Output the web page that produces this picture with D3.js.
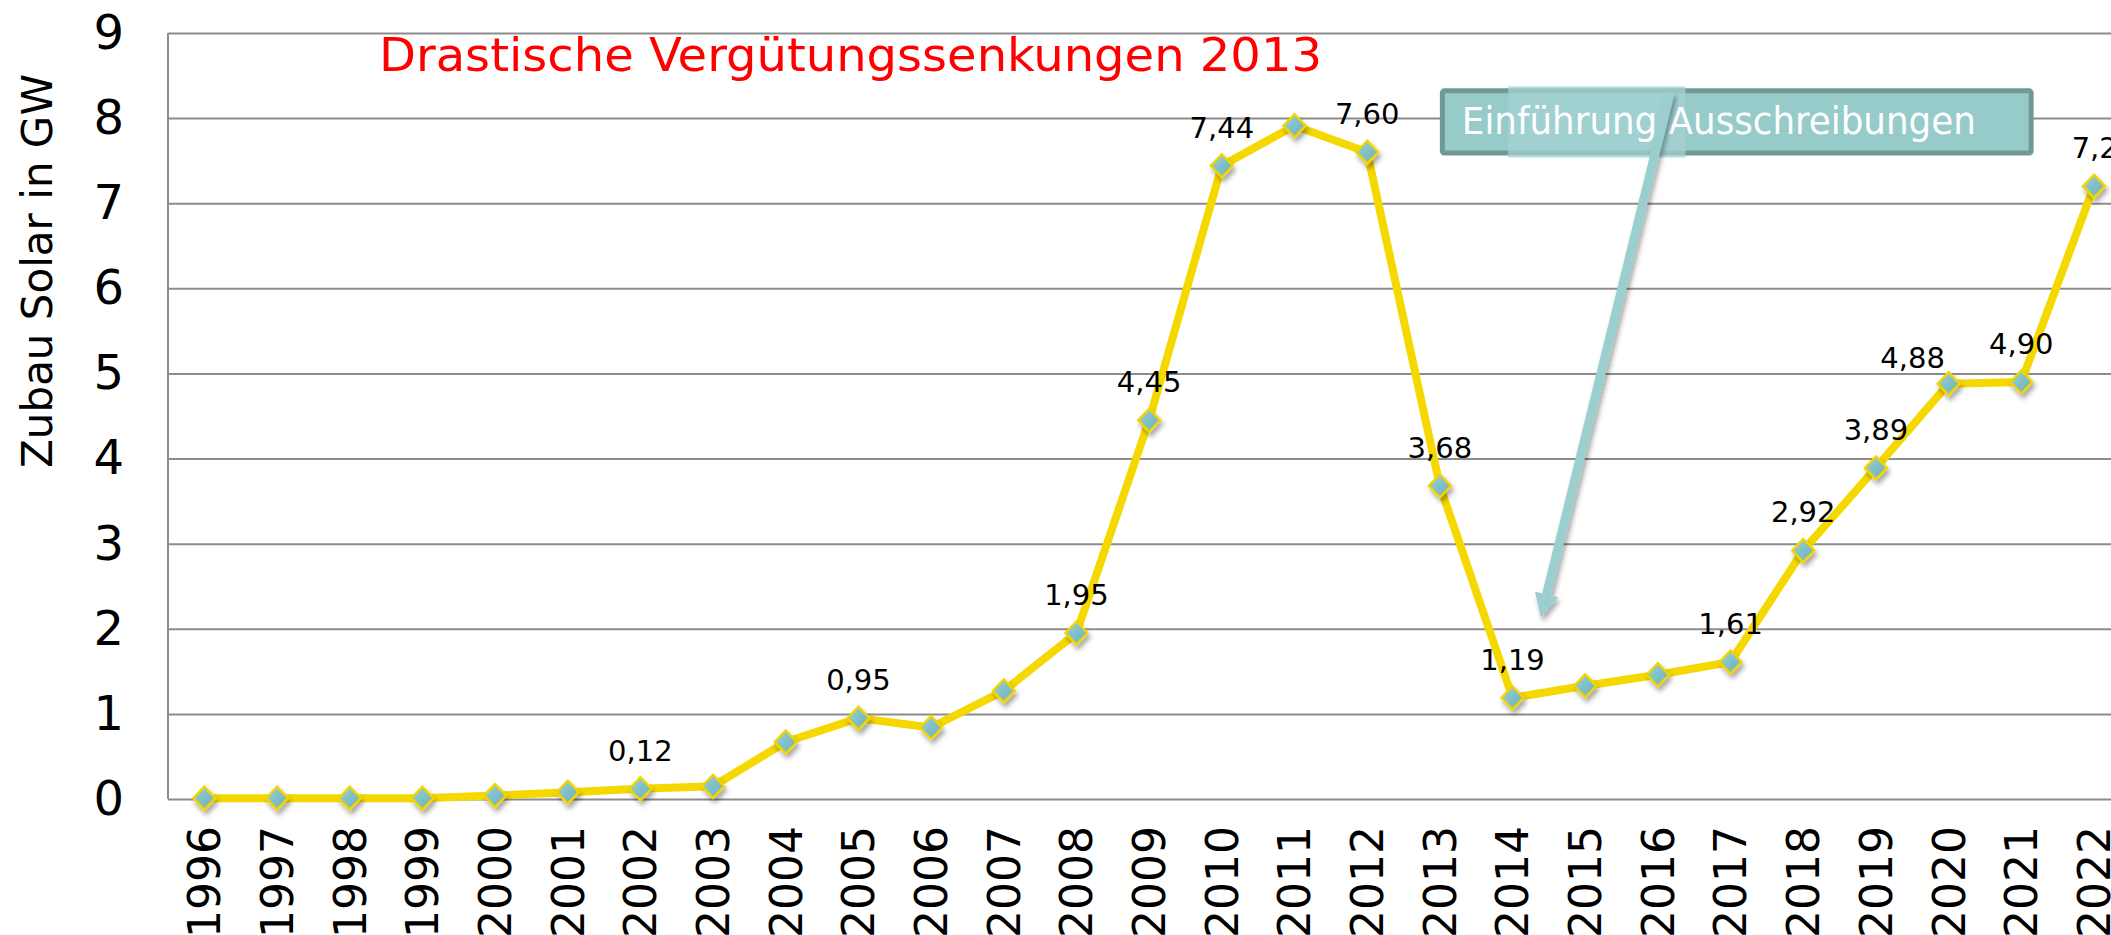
<!DOCTYPE html>
<html>
<head>
<meta charset="utf-8">
<script src="https://cdn.jsdelivr.net/npm/d3@7"></script>
<style>
body { margin: 0; background: #fff; }
</style>
</head>
<body>
<script>
// Zubau Solar in Deutschland (GW pro Jahr)
var years = ["1996","1997","1998","1999","2000","2001","2002","2003","2004","2005","2006","2007","2008","2009",
	"2010","2011","2012","2013","2014","2015","2016","2017","2018","2019","2020","2021","2022"];
var zubau = [0.01,0.01,0.01,0.01,0.04,0.08,0.12,0.15,0.67,0.95,0.84,1.27,1.95,4.45,
	7.44,7.91,7.60,3.68,1.19,1.33,1.46,1.61,2.92,3.89,4.88,4.90,7.20];
var labelYears = ["2002","2005","2008","2009","2010","2012","2013","2014","2017","2018","2019","2020","2021","2022"];
var yTicks = [0,1,2,3,4,5,6,7,8,9];
var yTitle = "Zubau Solar in GW";
var noteRed = "Drastische Vergütungssenkungen 2013";
var noteBox = "Einführung Ausschreibungen";

var W = 2111, H = 935;
// (window.top is read only, so plot* names)
var plotL = 168, plotR = 2130.3, plotT = 33, plotB = 799;

// label nudges where the original labels sit off centre
var nudge = {"2020": [-36, 12], "2022": [10, 0]};

var svg = d3.select("body").append("svg")
	.attr("width", W)
	.attr("height", H)
	.style("display", "block");

var defs = svg.append("defs");
var f = defs.append("filter").attr("id", "shadow")
	.attr("x", "-50%").attr("y", "-50%").attr("width", "200%").attr("height", "200%");
f.append("feDropShadow").attr("dx", 2).attr("dy", 4).attr("stdDeviation", 2.5)
	.attr("flood-color", "#000").attr("flood-opacity", 0.35);
var grad = defs.append("linearGradient").attr("id", "mk")
	.attr("x1", "0").attr("y1", "0").attr("x2", "1").attr("y2", "1");
grad.append("stop").attr("offset", "0").attr("stop-color", "#98d0d6");
grad.append("stop").attr("offset", "1").attr("stop-color", "#6aafba");

var x = d3.scalePoint().domain(years).range([plotL, plotR]).padding(0.5);
var y = d3.scaleLinear().domain([0, 9]).range([plotB, plotT]);

// fractional year -> pixel, used for the callout
var xf = function(v)
{
	return x(years[0]) + (v - (+years[0])) * x.step();
}

// grid + y axis
var gy = svg.append("g")
	.attr("transform", "translate(" + plotL + ",0)")
	.call(d3.axisLeft(y).tickValues(yTicks).tickSize(-(W - plotL)).tickPadding(44));
gy.select(".domain").remove();
gy.selectAll(".tick line").attr("stroke", "#8c8c8c").attr("stroke-width", 2);
gy.selectAll(".tick text")
	.style("font-family", "'DejaVu Sans', Verdana, sans-serif")
	.style("font-size", "48px")
	.attr("fill", "#000");

svg.append("line")
	.attr("x1", plotL).attr("x2", plotL)
	.attr("y1", y(9)).attr("y2", y(0))
	.attr("stroke", "#8c8c8c").attr("stroke-width", 2);

// x axis labels
var gx = svg.append("g")
	.attr("transform", "translate(0," + plotB + ")")
	.call(d3.axisBottom(x).tickSize(0));
gx.select(".domain").remove();
gx.selectAll(".tick text")
	.attr("transform", "rotate(-90)")
	.attr("x", -27)
	.attr("y", 0)
	.attr("dy", "0.35em")
	.style("text-anchor", "end")
	.style("font-family", "'DejaVu Sans', Verdana, sans-serif")
	.style("font-size", "44px")
	.attr("fill", "#000");

// y title
svg.append("text")
	.attr("transform", "translate(52,271) rotate(-90)")
	.attr("text-anchor", "middle")
	.style("font-family", "'DejaVu Sans', Verdana, sans-serif")
	.style("font-size", "42px")
	.text(yTitle);

// red note
svg.append("text")
	.attr("x", 379)
	.attr("y", 71)
	.attr("fill", "#ff0000")
	.attr("textLength", 943)
	.attr("lengthAdjust", "spacingAndGlyphs")
	.style("font-family", "'DejaVu Sans Condensed', 'DejaVu Sans', sans-serif")
	.style("font-stretch", "condensed")
	.style("font-size", "47px")
	.text(noteRed);

// line + markers
var pts = years.map(function(d, i) { return {year: d, v: zubau[i]}; });
var line = d3.line()
	.x(function(d) { return x(d.year); })
	.y(function(d) { return y(d.v); });

svg.append("path")
	.datum(pts)
	.attr("d", line)
	.attr("fill", "none")
	.attr("stroke", "#f5d800")
	.attr("stroke-width", 8)
	.attr("stroke-linejoin", "round");

svg.append("g").selectAll("path.mk")
	.data(pts)
	.enter().append("path")
	.attr("class", "mk")
	.attr("d", "M0,-11.5L11,0L0,11.5L-11,0Z")
	.attr("transform", function(d) { return "translate(" + x(d.year) + "," + y(d.v) + ")"; })
	.attr("fill", "url(#mk)")
	.attr("stroke", "#f2d500")
	.attr("stroke-width", 2.4)
	.attr("filter", "url(#shadow)");

// data labels
svg.append("g").selectAll("text")
	.data(pts.filter(function(d) { return labelYears.indexOf(d.year) != -1; }))
	.enter().append("text")
	.attr("x", function(d) { return x(d.year) + (nudge[d.year] ? nudge[d.year][0] : 0); })
	.attr("y", function(d) { return y(d.v) - 28 + (nudge[d.year] ? nudge[d.year][1] : 0); })
	.attr("text-anchor", "middle")
	.style("font-family", "'DejaVu Sans', Verdana, sans-serif")
	.style("font-size", "29px")
	.text(function(d) { return d3.format(".2f")(d.v).replace(".", ","); });

// callout box
var bx0 = xf(2013), bx1 = xf(2021.17), by0 = y(8.35), by1 = y(7.56);
svg.append("rect")
	.attr("x", bx0 + 2.5).attr("y", by0 + 2.5)
	.attr("width", bx1 - bx0 - 5).attr("height", by1 - by0 - 5)
	.attr("rx", 2)
	.attr("fill", "#96cbca")
	.attr("stroke", "#6e9997")
	.attr("stroke-width", 5);
svg.append("rect")
	.attr("x", xf(2013.94)).attr("y", by0 - 2)
	.attr("width", xf(2016.38) - xf(2013.94)).attr("height", by1 - by0 + 4)
	.attr("fill", "#a3d3d2")
	.attr("opacity", 0.75);
svg.append("text")
	.attr("x", bx0 + 22)
	.attr("y", by0 + 46)
	.attr("fill", "#fff")
	.attr("textLength", 514)
	.attr("lengthAdjust", "spacingAndGlyphs")
	.style("font-family", "'DejaVu Sans Condensed', 'DejaVu Sans', sans-serif")
	.style("font-stretch", "condensed")
	.style("font-size", "37px")
	.text(noteBox);

// arrow from the box down to 2014
var a0 = [xf(2016.17), y(8.31)], a1 = [xf(2014.39), y(2.13)];
var dx = a1[0] - a0[0], dy = a1[1] - a0[1], len = Math.sqrt(dx * dx + dy * dy);
var ux = dx / len, uy = dy / len;
var hl = 24, hw = 12;
var base = [a1[0] - ux * hl, a1[1] - uy * hl];
var arrow = svg.append("g").attr("filter", "url(#shadow)");
arrow.append("line")
	.attr("x1", a0[0]).attr("y1", a0[1])
	.attr("x2", base[0]).attr("y2", base[1])
	.attr("stroke", "#9bcfcf")
	.attr("stroke-width", 9);
arrow.append("path")
	.attr("d", "M" + a1[0] + "," + a1[1] +
		"L" + (base[0] - uy * hw) + "," + (base[1] + ux * hw) +
		"L" + (base[0] + uy * hw) + "," + (base[1] - ux * hw) + "Z")
	.attr("fill", "#9bcfcf");
</script>
</body>
</html>
